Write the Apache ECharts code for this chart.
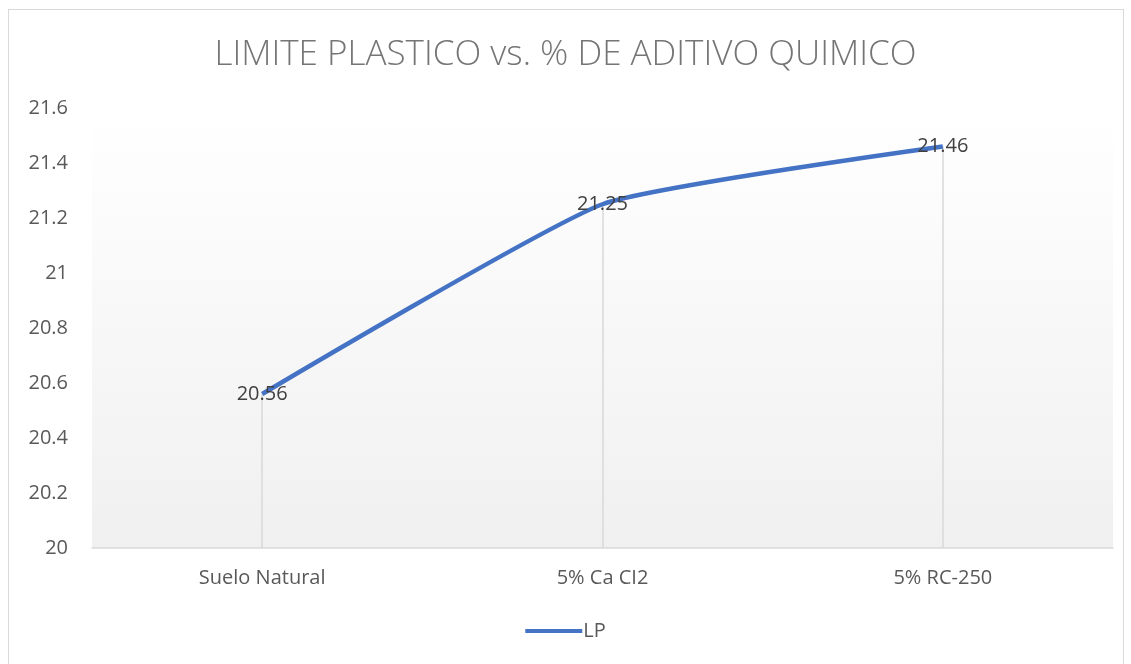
<!DOCTYPE html>
<html>
<head>
<meta charset="utf-8">
<script src="https://cdn.jsdelivr.net/npm/echarts@6/dist/echarts.min.js"></script>
<style>
  html, body { margin: 0; padding: 0; background: #fff; }
  #frame { position: absolute; left: 8px; top: 9px; width: 1114px; height: 660px; border: 1px solid #d9d9d9; }
  #chart { width: 1131px; height: 664px; }
</style>
</head>
<body>
<div id="frame"></div>
<div id="chart"></div>
<script>
// datos del grafico
const categories = ['Suelo Natural', '5% Ca CI2', '5% RC-250'];
const lpValues = [20.56, 21.25, 21.46];
const yMin = 20;
const yMax = 21.6;
const yStep = 0.2;

const chart = echarts.init(document.getElementById('chart'));

// lineas verticales desde el eje hasta cada punto
const dropLines = lpValues.map((v, i) => [
  { coord: [i, yMin] },
  { coord: [i, v] }
]);

const opt = {
  animation: false,
  textStyle: { fontFamily: 'Open Sans' },
  title: {
    text: 'LIMITE PLASTICO vs. % DE ADITIVO QUIMICO',
    left: 'center',
    top: 33,
    textStyle: { fontSize: 35, fontWeight: 300, color: '#757575', fontFamily: 'Open Sans' }
  },
  legend: {
    bottom: 18,
    left: 'center',
    itemWidth: 57,
    itemHeight: 4,
    itemGap: 4,
    icon: 'rect',
    textStyle: { fontSize: 20, color: '#595959', padding: [0, 0, 0, -4] },
    data: ['LP']
  },
  grid: {
    left: 92,
    right: 18,
    top: 108,
    bottom: 116,
    show: true,
    borderWidth: 0,
    backgroundColor: new echarts.graphic.LinearGradient(0, 0, 0, 1, [
      { offset: 0, color: '#ffffff' },
      { offset: 1, color: '#f0f0f0' }
    ])
  },
  xAxis: {
    type: 'category',
    data: categories,
    boundaryGap: true,
    axisLine: { lineStyle: { color: '#d9d9d9', width: 1.5 } },
    axisTick: { show: false },
    axisLabel: { fontSize: 20, color: '#595959', margin: 20 }
  },
  yAxis: {
    type: 'value',
    min: yMin,
    max: yMax,
    interval: yStep,
    axisLine: { show: false },
    axisTick: { show: false },
    splitLine: { show: false },
    axisLabel: {
      fontSize: 20,
      color: '#595959',
      margin: 24,
      formatter: (v) => String(Math.round(v * 10) / 10)
    }
  },
  series: [
    {
      name: 'LP',
      type: 'line',
      data: lpValues,
      smooth: 0.15,
      showSymbol: true,
      symbol: 'circle',
      symbolSize: 0.1,
      itemStyle: { color: '#4472c4' },
      lineStyle: { color: '#4472c4', width: 4.5 },
      label: {
        show: true,
        position: 'inside',
        fontSize: 20,
        color: '#404040',
        formatter: (p) => p.value.toFixed(2)
      },
      markLine: {
        silent: true,
        symbol: 'none',
        label: { show: false },
        lineStyle: { color: '#d9d9d9', width: 1.5, type: 'solid' },
        data: dropLines,
        z: 1
      }
    }
  ]
};
chart.setOption(opt);
</script>
</body>
</html>
